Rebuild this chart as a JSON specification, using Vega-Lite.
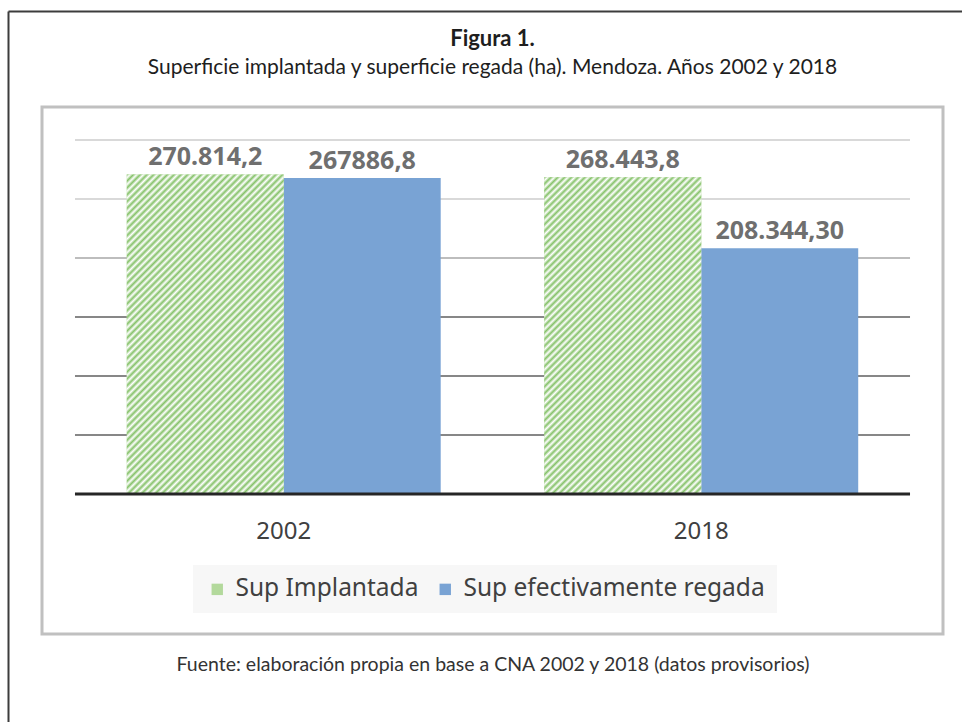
{
  "$schema": "https://vega.github.io/schema/vega-lite/v6.json",
  "width": 901,
  "height": 527,
  "autosize": {"type": "none"},
  "padding": {"left": 42, "top": 107, "right": 19, "bottom": 88},
  "background": "#ffffff",
  "title": {
    "text": "Figura 1.",
    "subtitle": "Superficie implantada y superficie regada (ha). Mendoza. Años 2002 y 2018",
    "frame": "group",
    "anchor": "middle",
    "font": "Lato",
    "fontSize": 22,
    "fontWeight": "bold",
    "color": "#1e1e1e",
    "subtitleFont": "Lato",
    "subtitleFontSize": 21,
    "subtitleColor": "#1e1e1e",
    "subtitlePadding": 6,
    "offset": -68
  },
  "datasets": {
    "barras": [
      {"anio": "2002", "serie": "Sup Implantada", "valor": 270814.2, "etiqueta": "270.814,2"},
      {"anio": "2002", "serie": "Sup efectivamente regada", "valor": 267886.8, "etiqueta": "267886,8"},
      {"anio": "2018", "serie": "Sup Implantada", "valor": 268443.8, "etiqueta": "268.443,8"},
      {"anio": "2018", "serie": "Sup efectivamente regada", "valor": 208344.30, "etiqueta": "208.344,30"}
    ],
    "grid": [
      {"v": 50000, "desde": "2002", "hasta": "2018"},
      {"v": 100000, "desde": "2002", "hasta": "2018"},
      {"v": 150000, "desde": "2002", "hasta": "2018"},
      {"v": 200000, "desde": "2002", "hasta": "2018"},
      {"v": 250000, "desde": "2002", "hasta": "2018"},
      {"v": 300000, "desde": "2002", "hasta": "2018"}
    ],
    "base": [
      {"v": 0, "desde": "2002", "hasta": "2018"}
    ]
  },
  "layer": [
    {
      "layer": [
        {
          "data": {"name": "grid"},
          "mark": {"type": "rule", "strokeWidth": 2},
          "encoding": {
            "x": {
              "field": "desde",
              "type": "nominal",
              "bandPosition": 0,
              "scale": {"domain": ["2002", "2018"], "paddingInner": 0, "paddingOuter": 0.079},
              "axis": {
                "orient": "bottom",
                "offset": -140,
                "domain": false,
                "ticks": false,
                "tickSize": 0,
                "grid": false,
                "labelAngle": 0,
                "labelFont": "Noto Sans",
                "labelFontSize": 24,
                "labelColor": "#404040",
                "labelPadding": 25,
                "title": "Fuente: elaboración propia en base a CNA 2002 y 2018 (datos provisorios)",
                "titleFont": "Lato",
                "titleFontSize": 19.5,
                "titleFontWeight": "normal",
                "titleColor": "#333333",
                "titlePadding": 112
              }
            },
            "x2": {"field": "hasta", "bandPosition": 1},
            "y": {
              "field": "v",
              "type": "quantitative",
              "scale": {"domain": [-118644, 327966], "nice": false, "zero": false},
              "axis": null
            },
            "stroke": {
              "condition": [
                {"test": "datum.v <= 150000", "value": "#878787"},
                {"test": "datum.v <= 200000", "value": "#bdbdbd"}
              ],
              "value": "#d9d9d9"
            }
          }
        },
        {
          "data": {"name": "barras"},
          "mark": {"type": "bar"},
          "encoding": {
            "x": {"field": "anio", "type": "nominal"},
            "xOffset": {
              "field": "serie",
              "type": "nominal",
              "scale": {"domain": ["Sup Implantada", "Sup efectivamente regada"], "paddingOuter": 0.33, "paddingInner": 0}
            },
            "y": {"field": "valor", "type": "quantitative", "axis": null},
            "color": {
              "field": "serie",
              "type": "nominal",
              "scale": {"domain": ["Sup Implantada", "Sup efectivamente regada"], "range": ["#b3d99c", "#79a3d4"]},
              "legend": {
                "title": null,
                "orient": "none",
                "legendX": 151,
                "legendY": 458,
                "direction": "horizontal",
                "fillColor": "#f7f7f7",
                "padding": 12,
                "symbolType": "square",
                "symbolSize": 130,
                "symbolStrokeWidth": 0,
                "labelFont": "Noto Sans",
                "labelFontSize": 24.5,
                "labelColor": "#404040",
                "labelOffset": 6,
                "columnPadding": 14,
                "labelLimit": 400
              }
            }
          }
        },
        {
          "data": {"name": "barras"},
          "transform": [{"filter": "datum.serie === 'Sup Implantada'"}],
          "mark": {
            "type": "bar",
            "fill": {
              "gradient": "linear",
              "x1": 0, "y1": 0, "x2": 0.593, "y2": 1.201,
              "stops": [
                {"offset": 0, "color": "#86c26a"}, {"offset": 0.0071, "color": "#ffffff"}, {"offset": 0.0143, "color": "#86c26a"}, {"offset": 0.0214, "color": "#ffffff"}, {"offset": 0.0286, "color": "#86c26a"}, {"offset": 0.0357, "color": "#ffffff"}, {"offset": 0.0429, "color": "#86c26a"}, {"offset": 0.05, "color": "#ffffff"}, {"offset": 0.0571, "color": "#86c26a"}, {"offset": 0.0643, "color": "#ffffff"},
                {"offset": 0.0714, "color": "#86c26a"}, {"offset": 0.0786, "color": "#ffffff"}, {"offset": 0.0857, "color": "#86c26a"}, {"offset": 0.0929, "color": "#ffffff"}, {"offset": 0.1, "color": "#86c26a"}, {"offset": 0.1071, "color": "#ffffff"}, {"offset": 0.1143, "color": "#86c26a"}, {"offset": 0.1214, "color": "#ffffff"}, {"offset": 0.1286, "color": "#86c26a"}, {"offset": 0.1357, "color": "#ffffff"},
                {"offset": 0.1429, "color": "#86c26a"}, {"offset": 0.15, "color": "#ffffff"}, {"offset": 0.1571, "color": "#86c26a"}, {"offset": 0.1643, "color": "#ffffff"}, {"offset": 0.1714, "color": "#86c26a"}, {"offset": 0.1786, "color": "#ffffff"}, {"offset": 0.1857, "color": "#86c26a"}, {"offset": 0.1929, "color": "#ffffff"}, {"offset": 0.2, "color": "#86c26a"}, {"offset": 0.2071, "color": "#ffffff"},
                {"offset": 0.2143, "color": "#86c26a"}, {"offset": 0.2214, "color": "#ffffff"}, {"offset": 0.2286, "color": "#86c26a"}, {"offset": 0.2357, "color": "#ffffff"}, {"offset": 0.2429, "color": "#86c26a"}, {"offset": 0.25, "color": "#ffffff"}, {"offset": 0.2571, "color": "#86c26a"}, {"offset": 0.2643, "color": "#ffffff"}, {"offset": 0.2714, "color": "#86c26a"}, {"offset": 0.2786, "color": "#ffffff"},
                {"offset": 0.2857, "color": "#86c26a"}, {"offset": 0.2929, "color": "#ffffff"}, {"offset": 0.3, "color": "#86c26a"}, {"offset": 0.3071, "color": "#ffffff"}, {"offset": 0.3143, "color": "#86c26a"}, {"offset": 0.3214, "color": "#ffffff"}, {"offset": 0.3286, "color": "#86c26a"}, {"offset": 0.3357, "color": "#ffffff"}, {"offset": 0.3429, "color": "#86c26a"}, {"offset": 0.35, "color": "#ffffff"},
                {"offset": 0.3571, "color": "#86c26a"}, {"offset": 0.3643, "color": "#ffffff"}, {"offset": 0.3714, "color": "#86c26a"}, {"offset": 0.3786, "color": "#ffffff"}, {"offset": 0.3857, "color": "#86c26a"}, {"offset": 0.3929, "color": "#ffffff"}, {"offset": 0.4, "color": "#86c26a"}, {"offset": 0.4071, "color": "#ffffff"}, {"offset": 0.4143, "color": "#86c26a"}, {"offset": 0.4214, "color": "#ffffff"},
                {"offset": 0.4286, "color": "#86c26a"}, {"offset": 0.4357, "color": "#ffffff"}, {"offset": 0.4429, "color": "#86c26a"}, {"offset": 0.45, "color": "#ffffff"}, {"offset": 0.4571, "color": "#86c26a"}, {"offset": 0.4643, "color": "#ffffff"}, {"offset": 0.4714, "color": "#86c26a"}, {"offset": 0.4786, "color": "#ffffff"}, {"offset": 0.4857, "color": "#86c26a"}, {"offset": 0.4929, "color": "#ffffff"},
                {"offset": 0.5, "color": "#86c26a"}, {"offset": 0.5071, "color": "#ffffff"}, {"offset": 0.5143, "color": "#86c26a"}, {"offset": 0.5214, "color": "#ffffff"}, {"offset": 0.5286, "color": "#86c26a"}, {"offset": 0.5357, "color": "#ffffff"}, {"offset": 0.5429, "color": "#86c26a"}, {"offset": 0.55, "color": "#ffffff"}, {"offset": 0.5571, "color": "#86c26a"}, {"offset": 0.5643, "color": "#ffffff"},
                {"offset": 0.5714, "color": "#86c26a"}, {"offset": 0.5786, "color": "#ffffff"}, {"offset": 0.5857, "color": "#86c26a"}, {"offset": 0.5929, "color": "#ffffff"}, {"offset": 0.6, "color": "#86c26a"}, {"offset": 0.6071, "color": "#ffffff"}, {"offset": 0.6143, "color": "#86c26a"}, {"offset": 0.6214, "color": "#ffffff"}, {"offset": 0.6286, "color": "#86c26a"}, {"offset": 0.6357, "color": "#ffffff"},
                {"offset": 0.6429, "color": "#86c26a"}, {"offset": 0.65, "color": "#ffffff"}, {"offset": 0.6571, "color": "#86c26a"}, {"offset": 0.6643, "color": "#ffffff"}, {"offset": 0.6714, "color": "#86c26a"}, {"offset": 0.6786, "color": "#ffffff"}, {"offset": 0.6857, "color": "#86c26a"}, {"offset": 0.6929, "color": "#ffffff"}, {"offset": 0.7, "color": "#86c26a"}, {"offset": 0.7071, "color": "#ffffff"},
                {"offset": 0.7143, "color": "#86c26a"}, {"offset": 0.7214, "color": "#ffffff"}, {"offset": 0.7286, "color": "#86c26a"}, {"offset": 0.7357, "color": "#ffffff"}, {"offset": 0.7429, "color": "#86c26a"}, {"offset": 0.75, "color": "#ffffff"}, {"offset": 0.7571, "color": "#86c26a"}, {"offset": 0.7643, "color": "#ffffff"}, {"offset": 0.7714, "color": "#86c26a"}, {"offset": 0.7786, "color": "#ffffff"},
                {"offset": 0.7857, "color": "#86c26a"}, {"offset": 0.7929, "color": "#ffffff"}, {"offset": 0.8, "color": "#86c26a"}, {"offset": 0.8071, "color": "#ffffff"}, {"offset": 0.8143, "color": "#86c26a"}, {"offset": 0.8214, "color": "#ffffff"}, {"offset": 0.8286, "color": "#86c26a"}, {"offset": 0.8357, "color": "#ffffff"}, {"offset": 0.8429, "color": "#86c26a"}, {"offset": 0.85, "color": "#ffffff"},
                {"offset": 0.8571, "color": "#86c26a"}, {"offset": 0.8643, "color": "#ffffff"}, {"offset": 0.8714, "color": "#86c26a"}, {"offset": 0.8786, "color": "#ffffff"}, {"offset": 0.8857, "color": "#86c26a"}, {"offset": 0.8929, "color": "#ffffff"}, {"offset": 0.9, "color": "#86c26a"}, {"offset": 0.9071, "color": "#ffffff"}, {"offset": 0.9143, "color": "#86c26a"}, {"offset": 0.9214, "color": "#ffffff"},
                {"offset": 0.9286, "color": "#86c26a"}, {"offset": 0.9357, "color": "#ffffff"}, {"offset": 0.9429, "color": "#86c26a"}, {"offset": 0.95, "color": "#ffffff"}, {"offset": 0.9571, "color": "#86c26a"}, {"offset": 0.9643, "color": "#ffffff"}, {"offset": 0.9714, "color": "#86c26a"}, {"offset": 0.9786, "color": "#ffffff"}, {"offset": 0.9857, "color": "#86c26a"}, {"offset": 0.9929, "color": "#ffffff"},
                {"offset": 1, "color": "#86c26a"}
              ]
            }
          },
          "encoding": {
            "x": {"field": "anio", "type": "nominal"},
            "xOffset": {
              "field": "serie",
              "type": "nominal",
              "scale": {"domain": ["Sup Implantada", "Sup efectivamente regada"]}
            },
            "y": {"field": "valor", "type": "quantitative", "axis": null}
          }
        },
        {
          "data": {"name": "base"},
          "mark": {"type": "rule", "strokeWidth": 3, "color": "#262626"},
          "encoding": {
            "x": {"field": "desde", "type": "nominal", "bandPosition": 0},
            "x2": {"field": "hasta", "bandPosition": 1},
            "y": {"field": "v", "type": "quantitative", "axis": null}
          }
        },
        {
          "data": {"name": "barras"},
          "mark": {
            "type": "text",
            "font": "Noto Sans",
            "fontSize": 25,
            "fontWeight": "bold",
            "color": "#6f6f6f",
            "baseline": "alphabetic",
            "dy": -9
          },
          "encoding": {
            "x": {"field": "anio", "type": "nominal"},
            "xOffset": {"field": "serie", "type": "nominal"},
            "y": {"field": "valor", "type": "quantitative", "axis": null},
            "text": {"field": "etiqueta"}
          }
        }
      ]
    },
    {
      "data": {"name": "base"},
      "mark": {"type": "point", "opacity": 0},
      "encoding": {
        "x": {
          "datum": 0,
          "type": "quantitative",
          "scale": {"domain": [0, 1], "range": [-34, 960]},
          "axis": {"orient": "top", "offset": 96, "domain": true, "domainColor": "#3c3c3c", "domainWidth": 2, "ticks": false, "labels": false, "grid": false, "title": null}
        },
        "y": {
          "datum": 0,
          "type": "quantitative",
          "scale": {"domain": [0, 1], "range": [650, -96]},
          "axis": {"orient": "left", "offset": 34, "domain": true, "domainColor": "#3c3c3c", "domainWidth": 2, "ticks": false, "labels": false, "grid": false, "title": null}
        }
      }
    }
  ],
  "resolve": {"scale": {"x": "independent", "y": "independent"}},
  "config": {
    "view": {"stroke": "#c0c0c0", "strokeWidth": 3}
  }
}
